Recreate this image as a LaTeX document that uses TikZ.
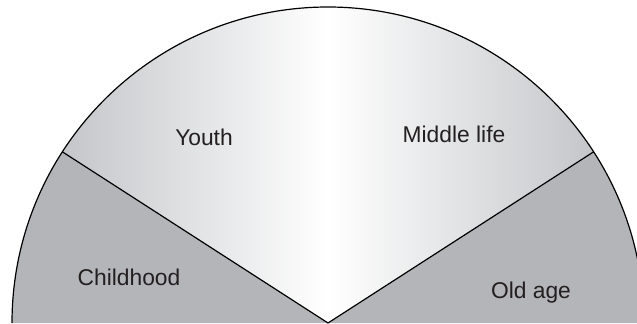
\documentclass[tikz,border=0pt]{standalone}
\usepackage{fontspec}
\setmainfont{Liberation Sans}
\usetikzlibrary{calc}
\definecolor{sideGray}{RGB}{180,181,184}
\definecolor{capGray}{RGB}{196,198,201}
\definecolor{inkDark}{RGB}{35,31,32}
\tikzset{
    every node/.append style={align=center},
    side/.style={fill=sideGray},
    topband/.style={shading=axis,left color=capGray,right color=capGray,middle color=white},
    rim/.style={draw=black,line width=0.6pt},
    lbl/.style={font=\fontsize{11.4}{13}\selectfont,text=inkDark,anchor=base,inner sep=0pt}
}
\begin{document}
\begin{tikzpicture}[x=0.5pt,y=0.5pt]
    \clip (0,0) rectangle (637,323);
    % apex and the two rim points
    \coordinate (O) at (328,0);
    \coordinate (L) at ($(O)+(147.2:158pt)$);
    \coordinate (R) at ($(O)+(32.8:158pt)$);
    % sectors
    \fill[side] (O) -- (L) arc[start angle=147.2,end angle=180,radius=158pt] -- cycle;
    \fill[side] (O) -- (R) arc[start angle=32.8,end angle=0,radius=158pt] -- cycle;
    \shade[topband] (O) -- (R) arc[start angle=32.8,end angle=147.2,radius=158pt] -- cycle;
    % outline
    \draw[rim] ($(O)+(180:158pt)$) arc[start angle=180,end angle=0,radius=158pt];
    \draw[rim] (L) -- (O) -- (R);
    % labels
    \node[lbl] (youth)   at (204,178) {Youth};
    \node[lbl] (midlife) at (454,181) {Middle life};
    \node[lbl] (child)   at (129,38)  {Childhood};
    \node[lbl] (oldage)  at (531,25)  {Old age};
\end{tikzpicture}
\end{document}
